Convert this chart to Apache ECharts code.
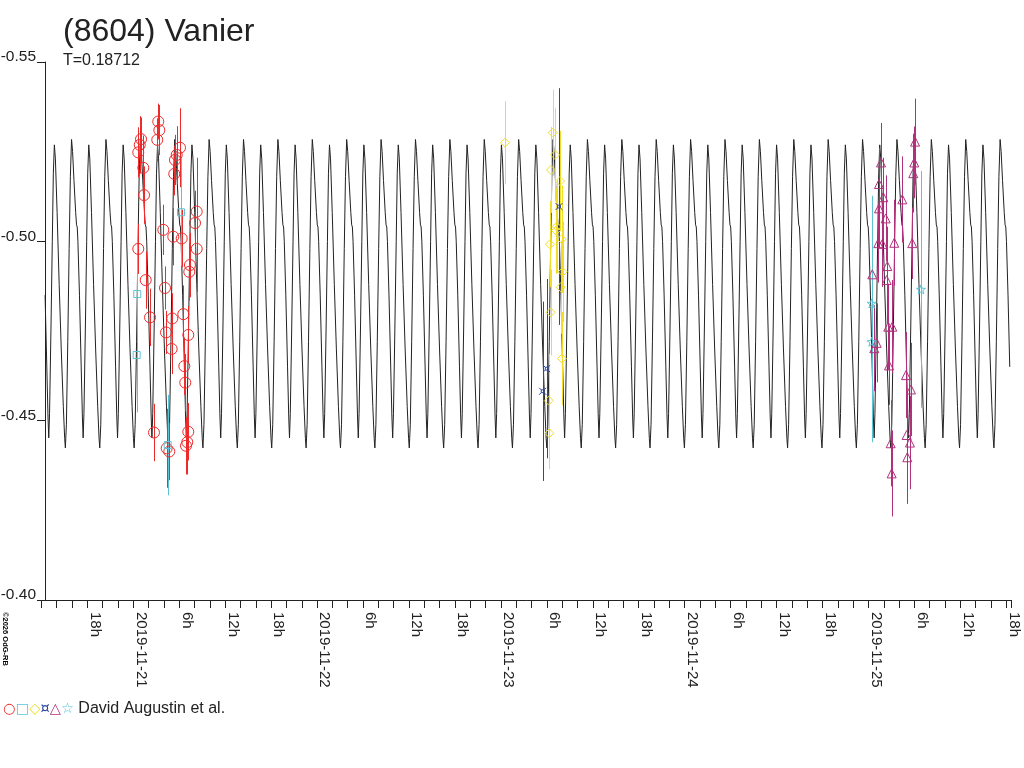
<!DOCTYPE html>
<html>
<head>
<meta charset="utf-8">
<title>(8604) Vanier</title>
<script src="https://cdn.jsdelivr.net/npm/echarts@6/dist/echarts.min.js"></script>
<style>
  html, body { margin: 0; padding: 0; background: #fff; }
  #chart { width: 1024px; height: 768px; }
</style>
</head>
<body>
<div id="chart"></div>
<script>
// time is in hours counted from 2019-11-21 00:00 UT, magnitudes are relative
var period = 0.18712          // rotation period, days
var peakEpoch = 0.92          // hours, time of the brighter maximum
var curveStart = -11.55
var curveEnd = 114.6

// one rotation of the model lightcurve
var modelPhase = [0.000, 0.030, 0.070, 0.120, 0.145, 0.165, 0.185, 0.230, 0.280, 0.315, 0.337, 0.360, 0.400, 0.440,
  0.470, 0.500, 0.530, 0.580, 0.640, 0.700, 0.760, 0.800, 0.820, 0.850, 0.890, 0.930, 0.965]
var modelMag = [-0.5284, -0.5250, -0.5170, -0.5080, -0.5046, -0.5040, -0.5000, -0.4850, -0.4650, -0.4510, -0.4452, -0.4520, -0.4750, -0.5000,
  -0.5190, -0.5269, -0.5230, -0.5080, -0.4880, -0.4700, -0.4540, -0.4450, -0.4424, -0.4490, -0.4720, -0.4980, -0.5180]

// observations: [hours, mag, error]
var redObs = [
  [1.01, -0.5285, 0.006], [0.84, -0.5269, 0.008], [0.65, -0.5248, 0.007], [1.31, -0.5205, 0.009],
  [1.40, -0.5129, 0.008], [0.65, -0.4979, 0.007], [1.62, -0.4892, 0.008], [3.26, -0.5334, 0.005],
  [3.40, -0.5310, 0.007], [3.13, -0.5283, 0.006], [6.10, -0.5261, 0.011], [5.67, -0.5241, 0.008],
  [5.44, -0.5227, 0.007], [5.35, -0.5188, 0.006], [8.28, -0.5083, 0.015], [8.06, -0.5051, 0.009],
  [3.92, -0.5032, 0.007], [5.22, -0.5013, 0.008], [6.32, -0.5008, 0.008], [8.28, -0.4979, 0.012],
  [7.40, -0.4934, 0.009], [7.31, -0.4915, 0.008], [4.14, -0.4870, 0.006], [2.18, -0.4788, 0.008],
  [5.09, -0.4785, 0.007], [6.53, -0.4797, 0.008], [4.27, -0.4746, 0.006], [7.18, -0.4739, 0.008],
  [5.01, -0.4700, 0.007], [6.66, -0.4652, 0.008], [6.79, -0.4606, 0.008], [2.70, -0.4467, 0.008],
  [7.18, -0.4469, 0.008], [7.05, -0.4440, 0.009], [6.88, -0.4430, 0.008], [4.36, -0.4423, 0.011],
  [4.70, -0.4414, 0.008]
]
var cyanObs = [
  [0.52, -0.4853, 0.016], [0.44, -0.4683, 0.016], [6.23, -0.5081, 0.015], [4.49, -0.4432, 0.014]
]
var yellowObs = [
  [48.54, -0.5275, 0.0116], [54.77, -0.5303, 0.012], [55.07, -0.5241, 0.013], [54.54, -0.5199, 0.012],
  [55.72, -0.5168, 0.014], [55.29, -0.5041, 0.013], [55.20, -0.5030, 0.012], [54.41, -0.4992, 0.012],
  [55.94, -0.5006, 0.015], [56.07, -0.4915, 0.014], [55.81, -0.4872, 0.013], [54.50, -0.4802, 0.012],
  [55.98, -0.4673, 0.013], [54.24, -0.4556, 0.013], [54.32, -0.4465, 0.010]
]
var blueObs = [
  [55.59, -0.5097, 0.033], [53.98, -0.4645, 0.025], [53.46, -0.4582, 0.025]
]
var magentaObs = [
  [102.09, -0.5278, 0.012], [97.64, -0.5220, 0.011], [101.98, -0.5220, 0.010], [101.85, -0.5190, 0.011],
  [97.38, -0.5160, 0.010], [97.94, -0.5123, 0.011], [100.42, -0.5117, 0.012], [97.38, -0.5092, 0.011],
  [98.25, -0.5064, 0.012], [97.28, -0.4995, 0.011], [97.81, -0.4993, 0.012], [99.37, -0.4996, 0.012],
  [101.72, -0.4995, 0.010], [98.46, -0.4931, 0.011], [98.38, -0.4892, 0.012], [96.50, -0.4908, 0.010],
  [98.59, -0.4762, 0.012], [99.11, -0.4762, 0.013], [97.07, -0.4717, 0.011], [96.76, -0.4702, 0.012],
  [98.68, -0.4654, 0.011], [100.90, -0.4627, 0.012], [101.55, -0.4587, 0.013], [100.99, -0.4460, 0.012],
  [101.42, -0.4439, 0.013], [98.90, -0.4437, 0.012], [101.07, -0.4398, 0.013], [99.03, -0.4353, 0.012]
]
var starObs = [
  [96.42, -0.4827, 0.030], [102.86, -0.4866, 0.033], [96.42, -0.4720, 0.028]
]

var FONT = '"Liberation Sans", Arial, Helvetica, sans-serif'
var INK = '#222'

var starPath = 'path://M10,0L12.35,6.76L19.51,6.91L13.8,11.24L15.88,18.09L10,14L4.12,18.09L6.2,11.24L0.49,6.91L7.65,6.76Z'
var currencyPath = 'path://M3,3L7,3L7,7L3,7Z M0,0L3,3 M10,0L7,3 M0,10L3,7 M10,10L7,7'

// model curve: the one-rotation profile repeated over the whole span
var curve = []
var P = period * 24
var k0 = Math.floor((curveStart - peakEpoch) / P) - 1
var k1 = Math.ceil((curveEnd - peakEpoch) / P) + 1
for (var k = k0; k <= k1; k++) {
  for (var i = 0; i < modelPhase.length; i++) {
    var h = peakEpoch + (k + modelPhase[i]) * P
    if (h >= curveStart && h <= curveEnd) curve.push([h, modelMag[i]])
  }
}

function errorBars(obs, color) {
  return {
    type: 'custom',
    z: 3,
    silent: true,
    encode: { x: 0, y: 1 },
    data: obs,
    renderItem: function (params, api) {
      var p1 = api.coord([api.value(0), api.value(1) - api.value(2)])
      var p2 = api.coord([api.value(0), api.value(1) + api.value(2)])
      var x = Math.round(p1[0]) + 0.5
      return {
        type: 'line',
        shape: { x1: x, y1: p1[1], x2: x, y2: p2[1] },
        style: { stroke: color, lineWidth: 1 }
      }
    }
  }
}

function points(obs, color, symbol, size) {
  return {
    type: 'scatter',
    z: 4,
    silent: true,
    symbol: symbol,
    symbolSize: size,
    itemStyle: { color: 'rgba(0,0,0,0)', borderColor: color, borderWidth: 1, opacity: 1 },
    data: obs.map(function (o) { return [o[0], o[1]] })
  }
}

function tickLabel(v) {
  if (v < -11 || v > 114.1) return ''
  var r = Math.round(v)
  if (Math.abs(v - r) > 1e-6 || r % 6 !== 0) return ''
  var hod = ((r % 24) + 24) % 24
  if (hod === 0) return '2019-11-' + (21 + r / 24)
  return hod + 'h'
}

var RED = '#ee2b2b', CYAN = '#5cc3d6', YELLOW = '#f0dd2a', BLUE = '#2b45a0', MAGENTA = '#b0307c'

var chart = echarts.init(document.getElementById('chart'), null, { renderer: 'canvas' })
chart.setOption({
  animation: false,
  backgroundColor: '#fff',
  grid: { left: 41.4, right: 13.1, top: 62, bottom: 168, containLabel: false, outerBoundsMode: 'none' },
  xAxis: {
    type: 'value',
    min: -12,
    max: curveEnd,
    interval: 2,
    axisLine: { onZero: false, lineStyle: { color: INK, width: 1 } },
    axisTick: { length: 8, lineStyle: { color: INK } },
    splitLine: { show: false },
    axisLabel: {
      rotate: -90,
      margin: 12,
      verticalAlign: 'bottom',
      color: INK,
      fontFamily: FONT,
      fontSize: 15,
      formatter: tickLabel
    }
  },
  yAxis: {
    type: 'value',
    inverse: true,
    min: -0.55,
    max: -0.40,
    interval: 0.05,
    offset: -3.6,
    axisLine: { show: true, onZero: false, lineStyle: { color: INK, width: 1 } },
    axisTick: { show: true, length: 8, lineStyle: { color: INK } },
    splitLine: { show: false },
    axisLabel: {
      margin: 9,
      align: 'right',
      verticalAlign: 'bottom',
      lineHeight: 10,
      color: INK,
      fontFamily: FONT,
      fontSize: 15.5,
      formatter: function (v) { return v.toFixed(2) }
    }
  },
  graphic: [
    { type: 'text', left: 63, top: 16, style: { text: '(8604) Vanier', fill: INK, font: '32px ' + FONT } },
    { type: 'text', left: 63, top: 53, style: { text: 'T=0.18712', fill: INK, font: '16px ' + FONT } },
    { type: 'text', x: 9, y: 612, rotation: -Math.PI / 2,
      style: { text: '\u00a92026 OdG-RB', fill: '#000', font: 'bold 7.5px ' + FONT } },
    { type: 'text', left: 3, top: 701,
      style: {
        text: '{r|\u25cb}{c|\u25a1}{y|\u25c7}{b|\u00a4}{m|\u25b3}{s|\u2606} David Augustin et al.',
        fill: INK,
        font: '16px ' + FONT,
        rich: {
          r: { fill: RED, fontSize: 14.5, fontFamily: 'DejaVu Sans' },
          c: { fill: CYAN, fontSize: 14.5, fontFamily: 'DejaVu Sans' },
          y: { fill: YELLOW, fontSize: 14.5, fontFamily: 'DejaVu Sans' },
          b: { fill: BLUE, fontSize: 14.5, fontFamily: 'DejaVu Sans' },
          m: { fill: MAGENTA, fontSize: 14.5, fontFamily: 'DejaVu Sans' },
          s: { fill: CYAN, fontSize: 14.5, fontFamily: 'DejaVu Sans' }
        }
      }
    }
  ],
  series: [
    {
      type: 'line',
      z: 2,
      silent: true,
      showSymbol: false,
      clip: true,
      lineStyle: { color: INK, width: 1 },
      data: curve
    },
    errorBars(redObs, RED),
    errorBars(cyanObs, CYAN),
    errorBars(yellowObs, YELLOW),
    errorBars(blueObs, BLUE),
    errorBars(magentaObs, MAGENTA),
    errorBars(starObs, CYAN),
    points(redObs, RED, 'circle', 11),
    points(cyanObs, CYAN, 'rect', 7),
    points(yellowObs, YELLOW, 'diamond', 9),
    points(blueObs, BLUE, currencyPath, 7),
    points(magentaObs, MAGENTA, 'triangle', 9),
    points(starObs, CYAN, starPath, 9)
  ]
})
</script>
</body>
</html>
